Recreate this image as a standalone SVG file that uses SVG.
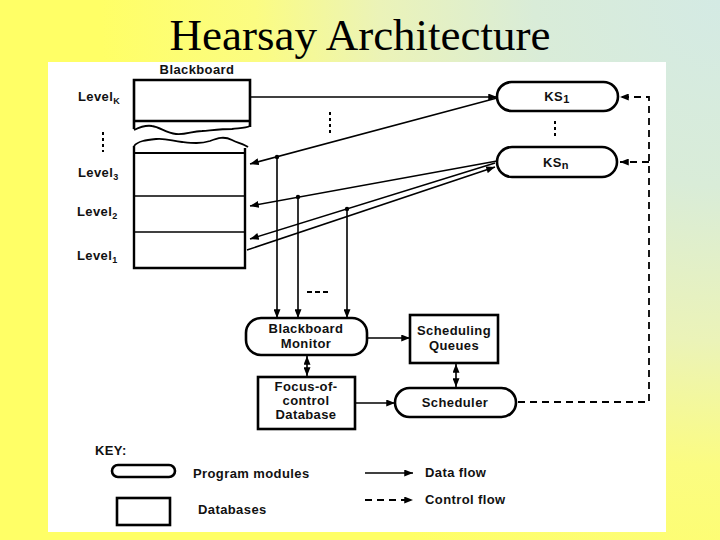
<svg xmlns="http://www.w3.org/2000/svg" width="720" height="540" viewBox="0 0 720 540">
<defs>
<radialGradient id="bg" cx="720" cy="0" r="620" gradientUnits="userSpaceOnUse">
<stop offset="0" stop-color="#d4eae4"/>
<stop offset="0.3" stop-color="#d9ecd8"/>
<stop offset="0.55" stop-color="#ebf3b8"/>
<stop offset="0.75" stop-color="#fbfc82"/>
<stop offset="1" stop-color="#ffff66"/>
</radialGradient>
<marker id="ah" viewBox="0 0 10 8" refX="10" refY="4" markerWidth="9" markerHeight="7" orient="auto-start-reverse" markerUnits="userSpaceOnUse">
<path d="M0,0 L10,4 L0,8 Z" fill="#000"/>
</marker>
<style>
.t{font-family:"Liberation Sans",Arial,sans-serif;font-weight:bold;font-size:13px;letter-spacing:0.4px;fill:#111}
.m{text-anchor:middle}
.box{fill:#fff;stroke:#000;stroke-width:2.6}
.ln{fill:none;stroke:#000;stroke-width:1.6}
.dl{fill:none;stroke:#000;stroke-width:1.8;stroke-dasharray:7 5}
.dot{fill:#000}
.dv{fill:none;stroke:#000;stroke-width:2;stroke-dasharray:3 3}
.wv{fill:none;stroke:#000;stroke-width:1.8;stroke-linejoin:round}
</style>
</defs>
<rect x="0" y="0" width="720" height="540" fill="url(#bg)"/>
<text x="360" y="50" text-anchor="middle" font-family="Liberation Serif,Times New Roman,serif" font-size="45" fill="#000">Hearsay Architecture</text>
<rect x="48" y="62" width="618" height="470" fill="#fff"/>

<g id="blackboard">
<text class="t m" x="197" y="74">Blackboard</text>
<path d="M134,129 L134,80 L250,80 L250,127" fill="none" stroke="#000" stroke-width="2.6"/>
<line x1="134" y1="121" x2="250" y2="121" stroke="#000" stroke-width="2.6"/>
<path class="wv" d="M134,130 C140,127 146,125 152,126 C160,127 166,133 176,134 C186,135 192,131 202,131 C214,130 222,129 232,129 C240,128 246,128 250,126"/>
<path class="wv" d="M134,146 C138,141 146,140 156,139 C166,138 172,141 182,142 C192,143 200,144 210,141 C218,138 224,136 232,140 C238,143 244,144 248,147"/>
<path d="M134,146 L134,268 L245,268 L245,148" fill="none" stroke="#000" stroke-width="2.4"/>
<line x1="134" y1="153" x2="245" y2="153" stroke="#000" stroke-width="2.2"/>
<line x1="134" y1="196" x2="245" y2="196" stroke="#000" stroke-width="1.6"/>
<line x1="134" y1="232" x2="245" y2="232" stroke="#000" stroke-width="1.6"/>
<text class="t" x="78" y="101">Level<tspan font-size="9" dy="3">K</tspan></text>
<line x1="103" y1="132" x2="103" y2="152" class="dv"/>
<text class="t" x="78" y="177">Level<tspan font-size="9" dy="3">3</tspan></text>
<text class="t" x="77" y="216">Level<tspan font-size="9" dy="3">2</tspan></text>
<text class="t" x="77" y="260">Level<tspan font-size="9" dy="3">1</tspan></text>
</g>

<g id="ks1">
<rect class="box" x="497" y="82" width="121" height="29" rx="14.5"/>
<text class="t m" x="557" y="101">KS<tspan font-size="11" dy="2">1</tspan></text>
</g>
<g id="ksn">
<rect class="box" x="497" y="147" width="120" height="30" rx="15"/>
<text class="t m" x="556" y="167">KS<tspan font-size="11" dy="2">n</tspan></text>
</g>
<line x1="555" y1="121" x2="555" y2="139" class="dv"/>
<line x1="330" y1="112" x2="330" y2="135" class="dv"/>

<g id="bbmonitor">
<rect class="box" x="246" y="318" width="121" height="37" rx="15"/>
<text class="t m" x="306" y="333">Blackboard</text>
<text class="t m" x="306" y="348">Monitor</text>
</g>
<g id="schedqueues">
<rect class="box" x="410" y="315" width="88" height="48"/>
<text class="t m" x="454" y="335">Scheduling</text>
<text class="t m" x="454" y="350">Queues</text>
</g>
<g id="focus">
<rect class="box" x="258" y="377" width="97" height="52"/>
<text class="t m" x="306" y="391">Focus-of-</text>
<text class="t m" x="306" y="405">control</text>
<text class="t m" x="306" y="419">Database</text>
</g>
<g id="scheduler">
<rect class="box" x="395" y="388" width="121" height="29" rx="14.5"/>
<text class="t m" x="455" y="407">Scheduler</text>
</g>

<g id="connectors">
<line class="ln" x1="250" y1="97" x2="497" y2="97" marker-end="url(#ah)"/>
<line class="ln" x1="497" y1="98" x2="250" y2="164" marker-end="url(#ah)"/>
<line class="ln" x1="497" y1="161" x2="250" y2="206" marker-end="url(#ah)"/>
<line class="ln" x1="495" y1="163" x2="250" y2="239" marker-end="url(#ah)"/>
<line class="ln" x1="247" y1="250" x2="495" y2="167" marker-end="url(#ah)"/>
<circle class="dot" cx="277" cy="157" r="2.2"/>
<circle class="dot" cx="298" cy="197" r="2.2"/>
<circle class="dot" cx="347" cy="209" r="2.2"/>
<line class="ln" x1="277" y1="157" x2="277" y2="318" marker-end="url(#ah)"/>
<line class="ln" x1="298" y1="197" x2="298" y2="318" marker-end="url(#ah)"/>
<line class="ln" x1="347" y1="209" x2="347" y2="318" marker-end="url(#ah)"/>
<line x1="307" y1="292" x2="329" y2="292" stroke="#000" stroke-width="2" stroke-dasharray="5 3"/>
<line class="ln" x1="367" y1="338" x2="410" y2="338" marker-end="url(#ah)"/>
<line class="ln" x1="307" y1="356" x2="307" y2="376" marker-start="url(#ah)" marker-end="url(#ah)"/>
<line class="ln" x1="456" y1="364" x2="456" y2="387" marker-start="url(#ah)" marker-end="url(#ah)"/>
<line class="ln" x1="355" y1="403" x2="395" y2="403" marker-end="url(#ah)"/>
<path class="dl" d="M518,402 L649,402 L649,97 L620,97" marker-end="url(#ah)"/>
<path class="dl" d="M649,162 L620,162" marker-end="url(#ah)"/>
</g>

<g id="key">
<text class="t" x="95" y="455">KEY:</text>
<rect class="box" x="112" y="465" width="63" height="12" rx="6"/>
<text class="t" x="193" y="478">Program modules</text>
<rect class="box" x="117" y="498" width="53" height="27"/>
<text class="t" x="198" y="514">Databases</text>
<line class="ln" x1="365" y1="473" x2="413" y2="473" marker-end="url(#ah)"/>
<text class="t" x="425" y="477">Data flow</text>
<line class="dl" x1="365" y1="500" x2="413" y2="500" marker-end="url(#ah)"/>
<text class="t" x="425" y="504">Control flow</text>
</g>
</svg>
